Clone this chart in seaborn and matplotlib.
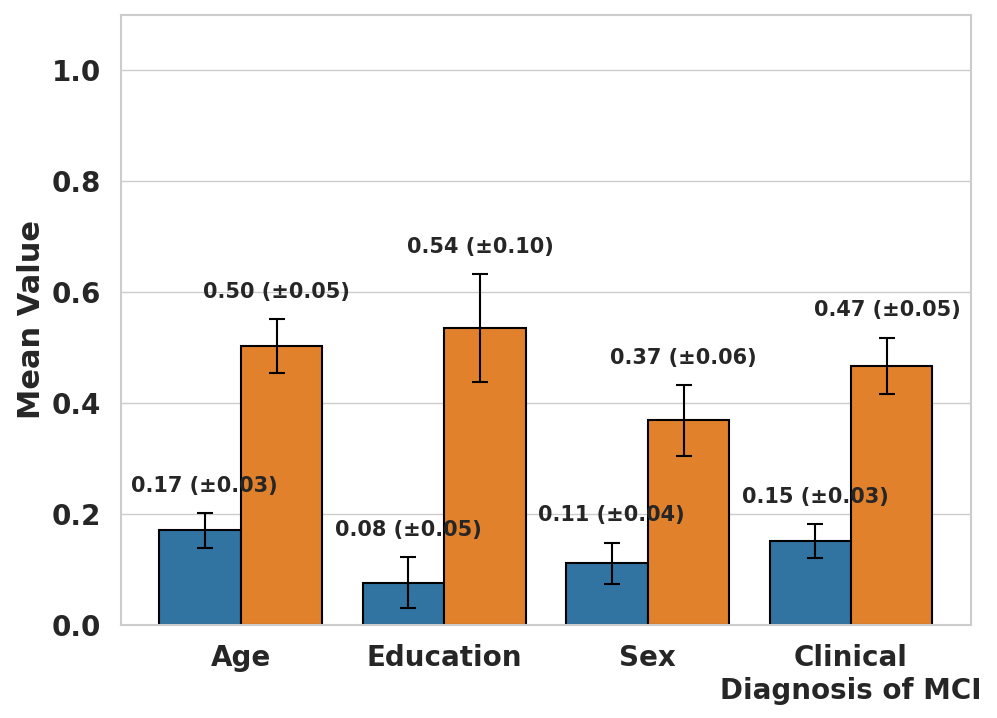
import numpy as np
import pandas as pd
import matplotlib.pyplot as plt
import seaborn as sns

# Values
categories = ["Age", "Education", "Sex", "Clinical\nDiagnosis of MCI"]
groups = ["Group A", "Group B"]
means_a = [0.17, 0.076, 0.111, 0.151]
errs_a = [0.032, 0.046, 0.037, 0.031]
means_b = [0.503, 0.535, 0.369, 0.467]
errs_b = [0.049, 0.098, 0.064, 0.051]

df = pd.DataFrame({
    "Variable": categories * 2,
    "Group": [groups[0]] * 4 + [groups[1]] * 4,
    "Mean": means_a + means_b,
    "Err": errs_a + errs_b,
})

sns.set_theme(style="whitegrid")

fig, ax = plt.subplots(figsize=(9.97, 7.18), dpi=100)
sns.barplot(data=df, x="Variable", y="Mean", hue="Group", errorbar=None,
            palette="tab10", edgecolor="black", linewidth=1.5, ax=ax)
ax.get_legend().remove()

# Error bars and labels, slightly inset from bar centers
offset = 0.177
for i, (m, e) in enumerate(zip(means_a, errs_a)):
    x = i - offset
    ax.errorbar(x, m, yerr=e, fmt="none", ecolor="black", capsize=6, elinewidth=1.5, capthick=1.5)
    ax.text(x, m + e + 0.031, f"{m:.2f} (\u00b1{e:.2f})", ha="center", va="bottom",
            fontsize=15, fontweight="bold", color="#262626")
for i, (m, e) in enumerate(zip(means_b, errs_b)):
    x = i + offset
    ax.errorbar(x, m, yerr=e, fmt="none", ecolor="black", capsize=6, elinewidth=1.5, capthick=1.5)
    ax.text(x, m + e + 0.031, f"{m:.2f} (\u00b1{e:.2f})", ha="center", va="bottom",
            fontsize=15, fontweight="bold", color="#262626")

ax.set_xlim(-0.59, 3.59)
ax.set_ylim(0, 1.1)
ax.set_xlabel("")
ax.set_ylabel("Mean Value", fontsize=22, fontweight="bold")
ax.tick_params(axis="x", labelsize=20, pad=8)
ax.tick_params(axis="y", labelsize=20, pad=8)
for lbl in ax.get_xticklabels() + ax.get_yticklabels():
    lbl.set_fontweight("bold")
ax.xaxis.grid(False)
for s in ax.spines.values():
    s.set_linewidth(1.5)

fig.subplots_adjust(left=0.121, right=0.974, top=0.979, bottom=0.13)
fig.savefig("out.png", dpi=100)
